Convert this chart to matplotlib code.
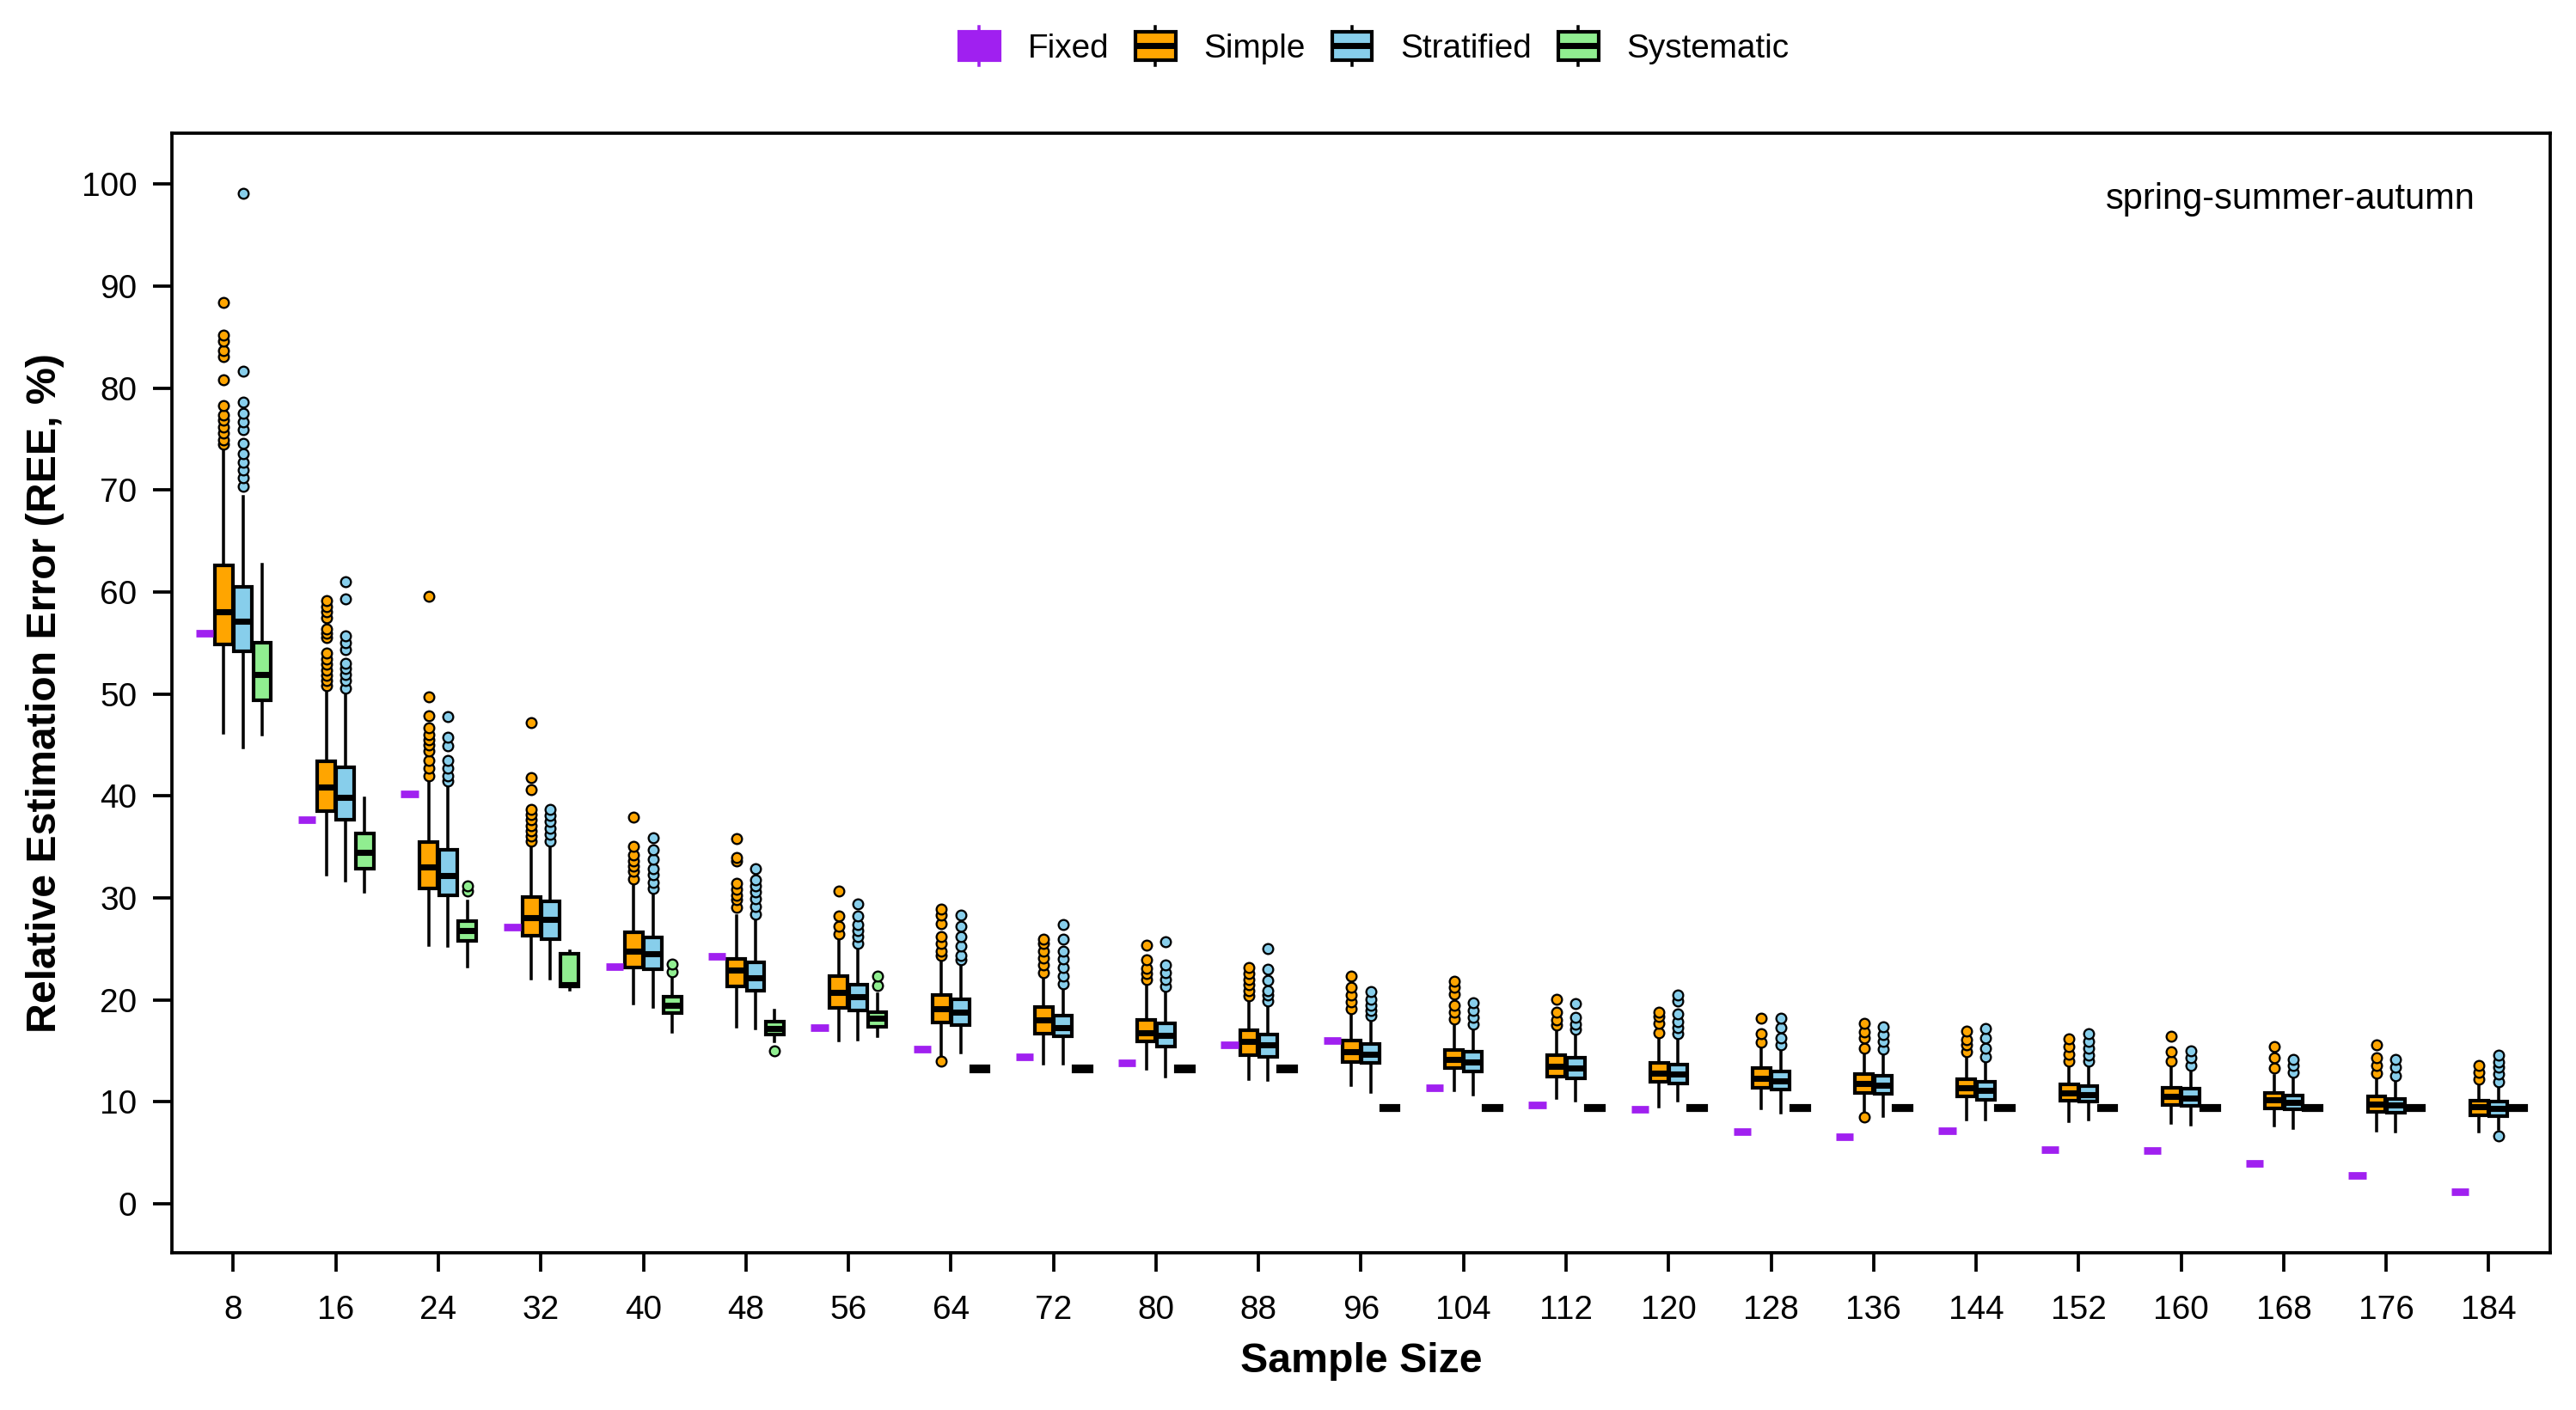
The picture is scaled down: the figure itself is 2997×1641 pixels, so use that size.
import numpy as np
import matplotlib
matplotlib.use("Agg")
import matplotlib.pyplot as plt
from matplotlib.patches import Rectangle, Patch
from matplotlib.lines import Line2D
from matplotlib.legend_handler import HandlerBase

plt.rcParams['font.family'] = ['Liberation Sans', 'DejaVu Sans']

# ---------------- data ----------------
sizes = [8, 16, 24, 32, 40, 48, 56, 64, 72, 80, 88, 96, 104, 112, 120, 128, 136, 144, 152, 160, 168, 176, 184]

fixed = [56.0, 37.7, 40.2, 27.1, 23.3, 24.3, 17.3, 15.2, 14.4, 13.8, 15.6, 16.0,
         11.4, 9.7, 9.3, 7.1, 6.6, 7.2, 5.3, 5.2, 4.0, 2.8, 1.2]

simple_q1 = [54.9, 38.5, 30.9, 26.3, 23.2, 21.3, 19.2, 17.8, 16.7, 15.9, 14.6, 13.9,
             13.3, 12.5, 12.0, 11.4, 10.9, 10.5, 10.1, 9.7, 9.4, 9.05, 8.7]
simple_med = [58.1, 40.9, 33.0, 28.1, 24.8, 22.9, 20.7, 19.1, 18.0, 16.8, 15.9, 14.9,
              14.2, 13.5, 12.8, 12.3, 11.8, 11.4, 10.85, 10.5, 10.2, 9.8, 9.5]
simple_q3 = [62.6, 43.4, 35.5, 30.1, 26.6, 24.0, 22.3, 20.5, 19.3, 18.0, 17.0, 16.0,
             15.1, 14.6, 13.8, 13.3, 12.7, 12.25, 11.7, 11.4, 10.9, 10.5, 10.1]
simple_lo = [46.2, 32.3, 25.4, 22.1, 19.6, 17.4, 16.0, 14.6, 13.7, 13.2, 12.2, 11.6,
             11.1, 10.4, 9.5, 9.4, 9.0, 8.3, 8.1, 7.9, 7.65, 7.2, 7.1]
simple_hi = [74.1, 50.3, 41.7, 35.1, 31.5, 28.2, 26.2, 24.0, 22.4, 21.6, 20.1, 18.8,
             17.7, 17.1, 16.2, 15.4, 14.7, 14.3, 13.7, 13.3, 12.6, 12.2, 11.8]
simple_out = [
    [74.5, 74.9, 75.6, 76.2, 76.9, 77.4, 78.3, 80.8, 83.1, 83.7, 84.6, 85.2, 88.4],
    [50.8, 51.3, 51.8, 52.3, 52.9, 53.4, 54.0, 55.5, 56.0, 56.4, 57.5, 58.1, 58.6, 59.15],
    [42.0, 42.7, 43.5, 44.4, 45.0, 45.5, 46.05, 46.7, 47.9, 49.7, 59.6],
    [35.6, 36.1, 36.6, 37.1, 37.7, 38.2, 38.7, 40.6, 41.8, 47.2],
    [31.9, 32.6, 33.1, 33.65, 34.2, 35.1, 37.95],
    [29.1, 29.8, 30.3, 30.85, 31.4, 33.65, 34.0, 35.85],
    [26.5, 27.2, 28.2, 30.7],
    [14.0, 24.4, 24.8, 25.5, 26.25, 27.5, 28.35, 28.9],
    [22.7, 23.4, 24.1, 24.8, 25.5, 25.96],
    [22.0, 22.6, 23.1, 23.9, 25.4],
    [20.4, 20.9, 21.5, 22.0, 22.6, 23.2],
    [19.1, 19.8, 20.5, 21.2, 22.3],
    [18.1, 18.8, 19.5, 20.6, 21.2, 21.8],
    [17.5, 18.0, 18.8, 20.1],
    [16.8, 17.7, 18.4, 18.8],
    [15.85, 16.7, 18.2],
    [8.5, 15.3, 16.3, 16.9, 17.7],
    [14.9, 15.6, 16.1, 16.97],
    [14.0, 14.7, 15.4, 16.2],
    [14.0, 14.9, 16.4],
    [13.3, 14.3, 15.4],
    [12.8, 13.6, 14.3, 15.6],
    [12.2, 12.9, 13.6],
]

strat_q1 = [54.2, 37.7, 30.3, 26.0, 23.0, 20.9, 19.0, 17.5, 16.4, 15.4, 14.45, 13.8,
            13.0, 12.3, 11.8, 11.2, 10.8, 10.2, 10.0, 9.6, 9.25, 8.9, 8.6]
strat_med = [57.1, 39.9, 32.2, 27.9, 24.5, 22.2, 20.3, 18.8, 17.3, 16.55, 15.6, 14.7,
             13.9, 13.3, 12.7, 12.05, 11.6, 11.1, 10.7, 10.4, 9.95, 9.7, 9.4]
strat_q3 = [60.5, 42.8, 34.7, 29.7, 26.1, 23.7, 21.5, 20.1, 18.5, 17.7, 16.6, 15.65,
            14.9, 14.3, 13.65, 13.0, 12.6, 12.0, 11.55, 11.3, 10.65, 10.3, 10.0]
strat_lo = [44.75, 31.7, 25.3, 22.1, 19.3, 17.2, 16.1, 14.8, 13.7, 12.5, 12.1, 11.0,
            10.7, 10.1, 10.1, 8.9, 8.6, 8.3, 8.3, 7.8, 7.4, 7.1, 7.3]
strat_hi = [69.4, 50.2, 41.2, 35.0, 30.6, 27.9, 25.1, 23.4, 21.2, 20.8, 19.5, 18.2,
            17.1, 16.7, 16.2, 15.1, 14.9, 14.0, 13.5, 13.0, 12.3, 12.1, 11.5]
strat_out = [
    [70.4, 71.2, 72.0, 72.7, 73.6, 74.6, 75.9, 76.7, 77.5, 78.6, 81.7, 99.1],
    [50.6, 51.3, 51.9, 52.5, 53.0, 54.4, 55.0, 55.7, 59.3, 61.0],
    [41.5, 42.0, 42.7, 43.5, 44.9, 45.8, 47.8],
    [35.6, 36.2, 36.8, 37.5, 38.1, 38.7],
    [30.9, 31.55, 32.25, 32.9, 33.8, 34.7, 35.9],
    [28.4, 29.2, 29.9, 30.6, 31.2, 31.8, 32.85],
    [25.5, 26.25, 26.8, 27.4, 28.2, 29.4],
    [23.9, 24.4, 25.3, 26.25, 27.2, 28.35],
    [21.6, 22.3, 23.2, 24.0, 24.8, 26.0, 27.4],
    [21.3, 22.0, 22.7, 23.4, 25.7],
    [19.9, 20.5, 20.9, 21.9, 23.0, 25.0],
    [18.5, 19.0, 19.5, 20.1, 20.85],
    [17.6, 18.3, 19.0, 19.7],
    [17.1, 17.6, 18.3, 19.6],
    [16.7, 17.3, 17.9, 18.6, 19.9, 20.5],
    [15.6, 16.3, 17.3, 18.2],
    [15.2, 15.9, 16.6, 17.4],
    [14.4, 15.3, 16.3, 17.2],
    [14.0, 14.6, 15.3, 15.9, 16.7],
    [13.6, 14.3, 15.0],
    [12.9, 13.6, 14.2],
    [12.6, 13.4, 14.2],
    [6.7, 12.0, 12.7, 13.4, 13.9, 14.6],
]

syst_q1 = [49.4, 32.85, 25.8, 21.35, 18.7, 16.6, 17.4, 13.0, 13.0, 13.0, 13.0, 9.15,
           9.15, 9.15, 9.15, 9.15, 9.15, 9.15, 9.15, 9.15, 9.15, 9.15, 9.15]
syst_med = [51.9, 34.5, 26.8, 21.5, 19.5, 17.2, 18.2, 13.25, 13.25, 13.25, 13.25, 9.4,
            9.4, 9.4, 9.4, 9.4, 9.4, 9.4, 9.4, 9.4, 9.4, 9.4, 9.4]
syst_q3 = [55.0, 36.3, 27.7, 24.5, 20.3, 17.9, 18.8, 13.5, 13.5, 13.5, 13.5, 9.65,
           9.65, 9.65, 9.65, 9.65, 9.65, 9.65, 9.65, 9.65, 9.65, 9.65, 9.65]
syst_lo = [46.0, 30.6, 23.3, 21.0, 16.9, 15.9, 16.4, 13.0, 13.0, 13.0, 13.0, 9.15,
           9.15, 9.15, 9.15, 9.15, 9.15, 9.15, 9.15, 9.15, 9.15, 9.15, 9.15]
syst_hi = [62.7, 39.8, 29.7, 24.8, 22.1, 19.0, 20.6, 13.5, 13.5, 13.5, 13.5, 9.65,
           9.65, 9.65, 9.65, 9.65, 9.65, 9.65, 9.65, 9.65, 9.65, 9.65, 9.65]
syst_out = [[], [], [30.7, 31.2], [], [22.8, 23.5], [15.0], [21.4, 22.3]] + [[] for _ in range(16)]

methods = ['Fixed', 'Simple', 'Stratified', 'Systematic']
colors = {'Fixed': '#A020F0', 'Simple': '#FFA500', 'Stratified': '#87CEEB', 'Systematic': '#90EE90'}

# ---------------- figure ----------------
fig = plt.figure(figsize=(9.99, 5.47), dpi=300)
ax = fig.add_axes([0.0667, 0.1115, 0.9233, 0.794])

idx = np.arange(len(sizes))
slot = 0.1877
offsets = {'Fixed': -1.5 * slot, 'Simple': -0.5 * slot, 'Stratified': 0.5 * slot, 'Systematic': 1.5 * slot}
bw = 0.175
LW = 1.0
WLW = 0.85


def make_stats(q1, med, q3, lo, hi, out):
    return [dict(q1=a, med=b, q3=c, whislo=d, whishi=e, fliers=f)
            for a, b, c, d, e, f in zip(q1, med, q3, lo, hi, out)]


groups = [
    ('Simple', make_stats(simple_q1, simple_med, simple_q3, simple_lo, simple_hi, simple_out)),
    ('Stratified', make_stats(strat_q1, strat_med, strat_q3, strat_lo, strat_hi, strat_out)),
    ('Systematic', make_stats(syst_q1, syst_med, syst_q3, syst_lo, syst_hi, syst_out)),
]

# Fixed: single value -> collapsed box drawn as thick purple bar
ax.hlines(fixed, idx + offsets['Fixed'] - 0.085, idx + offsets['Fixed'] + 0.085,
          colors=colors['Fixed'], linewidth=2.1, capstyle='butt', zorder=3)

for name, stats in groups:
    c = colors[name]
    ax.bxp(stats, positions=idx + offsets[name], widths=bw, patch_artist=True,
           showcaps=False, manage_ticks=False,
           boxprops=dict(facecolor=c, edgecolor='black', linewidth=LW),
           medianprops=dict(color='black', linewidth=1.7, solid_capstyle='butt'),
           whiskerprops=dict(color='black', linewidth=WLW),
           flierprops=dict(marker='o', markerfacecolor=c, markeredgecolor='black',
                           markersize=2.8, markeredgewidth=0.55, linestyle='none'))

ax.set_xlim(-0.6, len(sizes) - 1 + 0.6)
ax.set_ylim(-4.8, 105.0)
ax.set_xticks(idx)
ax.set_xticklabels([str(s) for s in sizes])
ax.set_yticks(np.arange(0, 101, 10))
ax.tick_params(axis='both', direction='out', length=5.2, width=0.9, labelsize=9.3, colors='black')
ax.tick_params(axis='x', pad=6.5)
ax.tick_params(axis='y', pad=4.5)
for sp in ax.spines.values():
    sp.set_linewidth(0.9)
    sp.set_color('black')

ax.set_xlabel('Sample Size', fontsize=11.6, fontweight='bold')
ax.xaxis.set_label_coords(0.5, -0.097)
ax.xaxis.label.set_va('center')
ax.set_ylabel('Relative Estimation Error (REE, %)', fontsize=11.6, fontweight='bold')
ax.yaxis.set_label_coords(-0.0531, 0.5)
ax.yaxis.label.set_va('center')

ax.text(0.9686, 0.941, 'spring-summer-autumn', transform=ax.transAxes,
        ha='right', va='center', fontsize=10)


# ---------------- legend ----------------
class BoxHandler(HandlerBase):
    def __init__(self, face, edge, show_median=True):
        super().__init__()
        self.face = face
        self.edge = edge
        self.show_median = show_median

    def create_artists(self, legend, orig_handle, xdescent, ydescent, width, height, fontsize, trans):
        x0, y0 = -xdescent, -ydescent
        ext = height * 0.17
        arts = []
        arts.append(Line2D([x0 + width / 2] * 2, [y0 + height, y0 + height + ext], color=self.edge, lw=WLW, transform=trans))
        arts.append(Line2D([x0 + width / 2] * 2, [y0 - ext, y0], color=self.edge, lw=WLW, transform=trans))
        arts.append(Rectangle((x0, y0), width, height, facecolor=self.face, edgecolor=self.edge,
                              lw=LW, transform=trans))
        if self.show_median:
            arts.append(Line2D([x0, x0 + width], [y0 + height / 2] * 2, color=self.edge, lw=1.7,
                               solid_capstyle='butt', transform=trans))
        return arts


handles = [Patch(label=m) for m in methods]
hmap = {
    handles[0]: BoxHandler(colors['Fixed'], colors['Fixed'], show_median=False),
    handles[1]: BoxHandler(colors['Simple'], 'black'),
    handles[2]: BoxHandler(colors['Stratified'], 'black'),
    handles[3]: BoxHandler(colors['Systematic'], 'black'),
}
fig.legend(handles=handles, labels=methods, handler_map=hmap, loc='center',
           bbox_to_anchor=(0.5335, 0.966), ncol=4, frameon=False, fontsize=9.3,
           handlelength=1.2, handleheight=0.95, handletextpad=0.85, columnspacing=0.8)

fig.savefig('out.png', dpi=300)
